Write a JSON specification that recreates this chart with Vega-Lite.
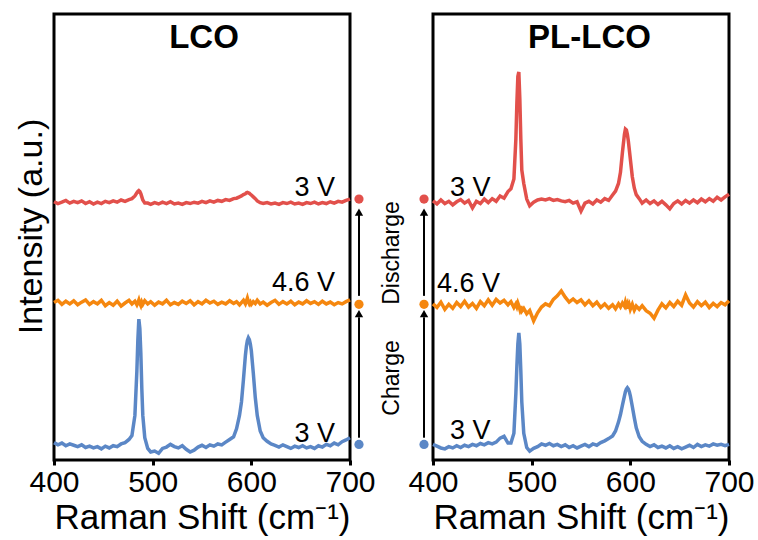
{
  "$schema": "https://vega.github.io/schema/vega-lite/v6.json",
  "background": "white",
  "padding": {"left": 12, "top": 12, "right": 4, "bottom": 4},
  "bounds": "flush",
  "spacing": 83,
  "config": {
    "font": "Liberation Sans",
    "view": {"stroke": "black", "strokeWidth": 3},
    "axis": {"grid": false, "domain": false, "labelColor": "black", "titleColor": "black", "tickColor": "black", "labelFontSize": 30, "titleFontSize": 35, "titleFontWeight": "normal", "labelFont": "Liberation Sans", "titleFont": "Liberation Sans"}
  },
  "datasets": {
    "lco": [
      {"x":400,"b":3.9,"o":35.3,"r":57.9},{"x":404,"b":3.4,"o":35.8,"r":57.5},{"x":408,"b":3.8,"o":34.9,"r":57.8},{"x":412,"b":3.2,"o":35.6,"r":58.2},
      {"x":416,"b":3.6,"o":35.0,"r":57.6},{"x":420,"b":3.3,"o":35.7,"r":58.0},{"x":424,"b":3.0,"o":34.8,"r":57.7},{"x":428,"b":3.4,"o":35.4,"r":58.1},
      {"x":432,"b":2.8,"o":35.9,"r":57.5},{"x":436,"b":3.1,"o":34.9,"r":57.9},{"x":440,"b":2.7,"o":35.5,"r":57.4},{"x":444,"b":3.0,"o":35.0,"r":57.8},
      {"x":448,"b":2.5,"o":35.8,"r":57.5},{"x":452,"b":3.1,"o":34.6,"r":58.0},{"x":456,"b":2.7,"o":35.3,"r":57.7},{"x":460,"b":3.2,"o":34.7,"r":58.1},
      {"x":464,"b":3.0,"o":35.6,"r":57.8},{"x":468,"b":3.6,"o":34.5,"r":58.3},{"x":472,"b":3.9,"o":35.2,"r":58.0},{"x":476,"b":4.6,"o":35.8,"r":58.4},
      {"x":479,"b":5.5,"o":35.0,"r":58.6},{"x":482,"b":10,"o":35.6,"r":59.2},{"x":484,"b":20,"o":34.8,"r":59.9},{"x":485,"b":27,"o":35.3,"r":60.2},
      {"x":486,"b":31.6,"o":35.9,"r":60.4},{"x":487,"b":29.5,"o":35.1,"r":60.2},{"x":488,"b":24,"o":34.6,"r":59.7},{"x":489,"b":16,"o":35.4,"r":59.0},
      {"x":490,"b":10,"o":34.9,"r":58.3},{"x":492,"b":5,"o":35.7,"r":57.6},{"x":495,"b":2.6,"o":35.0,"r":57.6},{"x":498,"b":1.8,"o":35.5,"r":57.3},
      {"x":502,"b":2.0,"o":34.7,"r":57.7},{"x":506,"b":1.5,"o":35.4,"r":57.4},{"x":510,"b":2.6,"o":35.0,"r":57.8},{"x":514,"b":2.9,"o":35.8,"r":57.5},
      {"x":518,"b":3.5,"o":34.8,"r":57.9},{"x":522,"b":3.0,"o":35.3,"r":57.4},{"x":526,"b":2.7,"o":34.9,"r":57.6},{"x":530,"b":3.2,"o":35.6,"r":57.3},
      {"x":534,"b":2.4,"o":35.1,"r":57.7},{"x":538,"b":1.8,"o":35.7,"r":57.5},{"x":542,"b":2.2,"o":34.8,"r":57.8},{"x":546,"b":2.9,"o":35.5,"r":57.6},
      {"x":550,"b":3.3,"o":35.0,"r":58.0},{"x":554,"b":2.8,"o":35.8,"r":57.7},{"x":558,"b":3.4,"o":35.2,"r":58.1},{"x":562,"b":3.1,"o":35.6,"r":57.8},
      {"x":566,"b":3.6,"o":34.9,"r":58.2},{"x":570,"b":3.4,"o":35.4,"r":58.0},{"x":574,"b":4.0,"o":35.0,"r":58.4},{"x":578,"b":4.6,"o":35.7,"r":58.2},
      {"x":582,"b":5.2,"o":35.1,"r":58.6},{"x":585,"b":7,"o":35.5,"r":58.7},{"x":588,"b":10,"o":34.8,"r":59.0},{"x":590,"b":13,"o":35.3,"r":59.2},
      {"x":592,"b":18,"o":35.8,"r":59.5},{"x":594,"b":23.5,"o":35.0,"r":59.7},{"x":595,"b":25.5,"o":35.6,"r":59.9},{"x":596,"b":26.8,"o":36.3,"r":60.0},
      {"x":597,"b":27.4,"o":35.5,"r":59.9},{"x":598,"b":27,"o":35.0,"r":59.8},{"x":599,"b":26,"o":35.4,"r":59.6},{"x":600,"b":24.5,"o":34.9,"r":59.4},
      {"x":602,"b":19.5,"o":35.5,"r":59.0},{"x":604,"b":14,"o":35.1,"r":58.6},{"x":606,"b":10,"o":35.8,"r":58.1},{"x":609,"b":6.5,"o":35.0,"r":57.7},
      {"x":612,"b":5,"o":35.4,"r":57.5},{"x":616,"b":4.2,"o":34.7,"r":57.7},{"x":620,"b":3.6,"o":35.3,"r":57.4},{"x":624,"b":3.3,"o":35.8,"r":57.6},
      {"x":628,"b":2.9,"o":34.9,"r":57.3},{"x":632,"b":3.4,"o":35.5,"r":57.7},{"x":636,"b":3.0,"o":35.0,"r":57.5},{"x":640,"b":2.6,"o":35.6,"r":57.8},
      {"x":644,"b":3.1,"o":34.8,"r":57.4},{"x":648,"b":2.8,"o":35.4,"r":57.6},{"x":652,"b":3.2,"o":35.0,"r":57.3},{"x":656,"b":2.7,"o":35.7,"r":57.7},
      {"x":660,"b":3.0,"o":35.1,"r":57.5},{"x":664,"b":2.6,"o":35.5,"r":57.8},{"x":668,"b":3.2,"o":34.9,"r":57.4},{"x":672,"b":2.9,"o":35.6,"r":57.7},
      {"x":676,"b":3.5,"o":35.0,"r":57.5},{"x":680,"b":3.2,"o":35.4,"r":57.9},{"x":684,"b":3.8,"o":34.8,"r":57.6},{"x":688,"b":3.4,"o":35.3,"r":58.0},
      {"x":692,"b":4.1,"o":35.0,"r":57.8},{"x":696,"b":4.5,"o":35.5,"r":58.2},{"x":700,"b":5.0,"o":35.9,"r":58.5}
    ],
    "pl": [
      {"x":400,"b":3.5,"o":35.0,"r":58.1},{"x":404,"b":3.1,"o":34.2,"r":57.4},{"x":408,"b":2.7,"o":35.4,"r":58.3},{"x":412,"b":2.5,"o":33.8,"r":57.5},
      {"x":416,"b":3.0,"o":34.9,"r":58.0},{"x":420,"b":2.7,"o":34.0,"r":57.2},{"x":424,"b":3.2,"o":35.3,"r":57.9},{"x":428,"b":2.8,"o":34.4,"r":58.4},
      {"x":432,"b":3.3,"o":35.6,"r":57.6},{"x":436,"b":3.0,"o":34.3,"r":58.2},{"x":440,"b":3.5,"o":35.1,"r":56.5},{"x":444,"b":3.2,"o":34.0,"r":58.0},
      {"x":448,"b":3.7,"o":35.5,"r":57.5},{"x":452,"b":3.4,"o":34.6,"r":58.5},{"x":456,"b":3.9,"o":35.9,"r":57.7},{"x":460,"b":3.6,"o":34.7,"r":58.6},
      {"x":464,"b":4.0,"o":36.0,"r":58.0},{"x":468,"b":4.9,"o":35.2,"r":59.2},{"x":472,"b":5.3,"o":35.8,"r":58.7},{"x":476,"b":3.8,"o":34.8,"r":60.2},
      {"x":479,"b":3.8,"o":35.5,"r":60.8},{"x":482,"b":6,"o":34.2,"r":63},{"x":484,"b":15,"o":35.0,"r":72},{"x":485,"b":21,"o":34.4,"r":80},
      {"x":486,"b":26,"o":35.2,"r":86},{"x":487,"b":28.5,"o":34.6,"r":87},{"x":488,"b":26,"o":33.8,"r":81},{"x":489,"b":20,"o":34.5,"r":72},
      {"x":490,"b":13,"o":33.4,"r":65},{"x":492,"b":6,"o":34.0,"r":62},{"x":495,"b":2.8,"o":32.8,"r":58.5},{"x":498,"b":2.0,"o":33.5,"r":57.0},
      {"x":502,"b":2.6,"o":31.2,"r":57.8},{"x":506,"b":3.0,"o":33.0,"r":58.3},{"x":510,"b":3.6,"o":34.3,"r":58.5},{"x":514,"b":3.3,"o":35.0,"r":58.3},
      {"x":518,"b":3.7,"o":34.6,"r":58.6},{"x":522,"b":3.2,"o":36.0,"r":58.2},{"x":526,"b":3.5,"o":36.8,"r":58.4},{"x":530,"b":3.0,"o":37.9,"r":58.1},
      {"x":534,"b":3.4,"o":36.5,"r":57.9},{"x":538,"b":2.8,"o":35.4,"r":58.2},{"x":542,"b":3.2,"o":36.1,"r":57.6},{"x":546,"b":2.7,"o":35.3,"r":57.9},
      {"x":550,"b":3.1,"o":35.9,"r":55.8},{"x":554,"b":3.5,"o":34.8,"r":57.6},{"x":558,"b":3.0,"o":35.7,"r":58.0},{"x":562,"b":3.6,"o":34.6,"r":57.4},
      {"x":566,"b":3.3,"o":35.4,"r":58.3},{"x":570,"b":3.9,"o":34.2,"r":57.8},{"x":574,"b":4.3,"o":35.0,"r":58.6},{"x":578,"b":4.8,"o":34.0,"r":58.2},
      {"x":582,"b":5.4,"o":34.8,"r":59.4},{"x":585,"b":6.5,"o":33.9,"r":60.3},{"x":588,"b":8.5,"o":35.0,"r":62},{"x":590,"b":10.2,"o":34.3,"r":64.5},
      {"x":592,"b":12.3,"o":35.2,"r":69},{"x":594,"b":14.3,"o":34.5,"r":73},{"x":595,"b":15.3,"o":35.4,"r":74.2},{"x":596,"b":15.9,"o":34.6,"r":74},
      {"x":597,"b":16.2,"o":35.1,"r":73},{"x":598,"b":15.9,"o":34.0,"r":71.5},{"x":599,"b":15.3,"o":34.7,"r":69.5},{"x":600,"b":14.4,"o":33.8,"r":67.5},
      {"x":602,"b":12,"o":34.9,"r":63.5},{"x":604,"b":9.5,"o":33.6,"r":61},{"x":606,"b":7.2,"o":34.5,"r":59.5},{"x":609,"b":5.2,"o":33.8,"r":58.6},
      {"x":612,"b":4.2,"o":34.6,"r":57.6},{"x":616,"b":3.5,"o":33.5,"r":58.3},{"x":620,"b":3.0,"o":32.9,"r":57.5},{"x":624,"b":3.4,"o":31.8,"r":58.1},
      {"x":628,"b":2.8,"o":33.6,"r":57.3},{"x":632,"b":3.1,"o":35.0,"r":58.0},{"x":636,"b":2.7,"o":34.1,"r":57.2},{"x":640,"b":3.2,"o":35.3,"r":56.3},
      {"x":644,"b":2.6,"o":34.4,"r":57.5},{"x":648,"b":3.0,"o":35.6,"r":58.1},{"x":652,"b":2.5,"o":34.7,"r":57.4},{"x":656,"b":2.9,"o":37.0,"r":58.2},
      {"x":660,"b":3.3,"o":35.2,"r":57.6},{"x":664,"b":2.8,"o":34.3,"r":58.3},{"x":668,"b":3.5,"o":35.5,"r":57.7},{"x":672,"b":3.0,"o":34.6,"r":58.5},
      {"x":676,"b":3.4,"o":35.4,"r":57.9},{"x":680,"b":3.1,"o":34.2,"r":58.6},{"x":684,"b":3.6,"o":35.1,"r":58.0},{"x":688,"b":3.3,"o":34.4,"r":58.9},
      {"x":692,"b":3.5,"o":35.3,"r":58.3},{"x":696,"b":3.2,"o":34.8,"r":59.0},{"x":700,"b":3.5,"o":35.7,"r":59.6}
    ]
  },
  "hconcat": [
    {
      "width": 296,
      "height": 446,
      "encoding": {
        "x": {"field": "x", "type": "quantitative", "scale": {"domain": [400, 700], "nice": false},
              "axis": {"values": [400, 500, 600, 700], "title": "Raman Shift (cm⁻¹)", "tickSize": 5, "tickWidth": 3, "labelPadding": 2, "titlePadding": 3, "labelFlush": false, "labelOverlap": false}},
        "y": {"field": "y", "type": "quantitative", "scale": {"domain": [0, 100], "nice": false},
              "axis": {"title": "Intensity (a.u.)", "labels": false, "ticks": false, "titlePadding": 6, "titleY": 212, "titleFontSize": 34}}
      },
      "layer": [
        {
          "data": {"name": "lco"},
          "transform": [{"fold": ["b", "o", "r"], "as": ["s", "y"]}],
          "mark": {"type": "line", "strokeWidth": 3.5},
          "encoding": {
            "color": {"field": "s", "type": "nominal", "scale": {"domain": ["b", "o", "r"], "range": ["#5b87c6", "#f5870f", "#e2504b"]}, "legend": null}
          }
        },
        {
          "data": {"values": [{"x": 684.8, "y": 61, "t": "3 V"}, {"x": 684.8, "y": 39.7, "t": "4.6 V"}, {"x": 684.8, "y": 5.8, "t": "3 V"}]},
          "mark": {"type": "text", "align": "right", "baseline": "middle", "fontSize": 27, "color": "black"},
          "encoding": {"text": {"field": "t"}}
        },
        {
          "data": {"values": [{"x": 552, "y": 94.6, "t": "LCO"}]},
          "mark": {"type": "text", "align": "center", "baseline": "middle", "fontSize": 33, "fontWeight": "bold", "color": "black"},
          "encoding": {"text": {"field": "t"}}
        },
        {
          "data": {"values": [{"x": 709.1, "y": 5, "y2": 32}, {"x": 709.1, "y": 36.8, "y2": 55}]},
          "mark": {"type": "rule", "strokeWidth": 2, "color": "black", "clip": false},
          "encoding": {"y2": {"field": "y2"}}
        },
        {
          "data": {"values": [{"x": 709.1, "y": 32.8}, {"x": 709.1, "y": 55.6}]},
          "mark": {"type": "point", "shape": "triangle-up", "filled": true, "color": "black", "size": 70, "opacity": 1, "clip": false},
          "encoding": {}
        },
        {
          "data": {"values": [{"x": 709.1, "y": 58.5, "s": "r"}, {"x": 709.1, "y": 34.9, "s": "o"}, {"x": 709.1, "y": 3.5, "s": "b"}]},
          "mark": {"type": "point", "filled": true, "size": 85, "opacity": 1, "clip": false},
          "encoding": {"color": {"field": "s", "type": "nominal", "legend": null}}
        }
      ]
    },
    {
      "width": 296,
      "height": 446,
      "encoding": {
        "x": {"field": "x", "type": "quantitative", "scale": {"domain": [400, 700], "nice": false},
              "axis": {"values": [400, 500, 600, 700], "title": "Raman Shift (cm⁻¹)", "tickSize": 5, "tickWidth": 3, "labelPadding": 2, "titlePadding": 3, "labelFlush": false, "labelOverlap": false}},
        "y": {"field": "y", "type": "quantitative", "scale": {"domain": [0, 100], "nice": false}, "axis": null}
      },
      "layer": [
        {
          "data": {"name": "pl"},
          "transform": [{"fold": ["b", "o", "r"], "as": ["s", "y"]}],
          "mark": {"type": "line", "strokeWidth": 3.5},
          "encoding": {
            "color": {"field": "s", "type": "nominal", "scale": {"domain": ["b", "o", "r"], "range": ["#5b87c6", "#f5870f", "#e2504b"]}, "legend": null}
          }
        },
        {
          "data": {"values": [{"x": 417.2, "y": 61, "t": "3 V"}, {"x": 404.1, "y": 39.5, "t": "4.6 V"}, {"x": 417.2, "y": 6.5, "t": "3 V"}]},
          "mark": {"type": "text", "align": "left", "baseline": "middle", "fontSize": 27, "color": "black"},
          "encoding": {"text": {"field": "t"}}
        },
        {
          "data": {"values": [{"x": 558.6, "y": 94.6, "t": "PL-LCO"}]},
          "mark": {"type": "text", "align": "center", "baseline": "middle", "fontSize": 33, "fontWeight": "bold", "color": "black"},
          "encoding": {"text": {"field": "t"}}
        },
        {
          "data": {"values": [{"x": 358.4, "y": 18.4, "t": "Charge"}, {"x": 358.4, "y": 46.4, "t": "Discharge"}]},
          "mark": {"type": "text", "align": "center", "baseline": "middle", "angle": 270, "fontSize": 23, "color": "black", "clip": false},
          "encoding": {"text": {"field": "t"}}
        },
        {
          "data": {"values": [{"x": 390.9, "y": 5, "y2": 32}, {"x": 390.9, "y": 36.8, "y2": 55}]},
          "mark": {"type": "rule", "strokeWidth": 2, "color": "black", "clip": false},
          "encoding": {"y2": {"field": "y2"}}
        },
        {
          "data": {"values": [{"x": 390.9, "y": 32.8}, {"x": 390.9, "y": 55.6}]},
          "mark": {"type": "point", "shape": "triangle-up", "filled": true, "color": "black", "size": 70, "opacity": 1, "clip": false},
          "encoding": {}
        },
        {
          "data": {"values": [{"x": 390.9, "y": 58.5, "s": "r"}, {"x": 390.9, "y": 34.9, "s": "o"}, {"x": 390.9, "y": 3.5, "s": "b"}]},
          "mark": {"type": "point", "filled": true, "size": 85, "opacity": 1, "clip": false},
          "encoding": {"color": {"field": "s", "type": "nominal", "legend": null}}
        }
      ]
    }
  ]
}
